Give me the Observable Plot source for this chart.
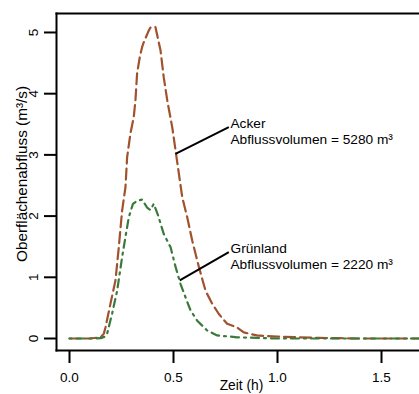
<!DOCTYPE html>
<html><head><meta charset="utf-8">
<script src="https://cdn.jsdelivr.net/npm/d3@7"></script>
<script src="https://cdn.jsdelivr.net/npm/@observablehq/plot@0.6"></script>
<style>html,body{margin:0;padding:0;background:#fff;overflow:hidden}</style>
</head><body><div id="chart"></div>
<script>
// Acker (cropland) hydrograph: time (h) and surface runoff (m³/s)
const ackerTime = [0, 0.05, 0.10, 0.15, 0.165, 0.173, 0.197, 0.221, 0.237, 0.253, 0.269, 0.277, 0.293, 0.309, 0.317, 0.325, 0.338, 0.349, 0.357, 0.381, 0.389, 0.413, 0.4375, 0.453, 0.47, 0.494, 0.51, 0.526, 0.542, 0.566, 0.59, 0.622, 0.654, 0.686, 0.718, 0.758, 0.806, 0.838, 0.9, 1.0, 1.1, 1.2, 1.3, 1.4, 1.7];
const ackerFlow = [0, 0, 0, 0.02, 0.08, 0.18, 0.57, 0.95, 1.49, 2.09, 2.47, 2.96, 3.35, 3.62, 3.89, 4.33, 4.6, 4.76, 4.84, 5.03, 5.08, 5.09, 4.71, 4.27, 3.89, 3.45, 3.07, 2.69, 2.31, 1.98, 1.60, 1.17, 0.78, 0.57, 0.40, 0.24, 0.18, 0.10, 0.05, 0.03, 0.02, 0.01, 0.005, 0, 0];
// Grünland (grassland) hydrograph
const gruenTime = [0, 0.1, 0.15, 0.17, 0.181, 0.205, 0.229, 0.253, 0.269, 0.285, 0.305, 0.325, 0.349, 0.373, 0.389, 0.405, 0.425, 0.453, 0.486, 0.51, 0.534, 0.558, 0.582, 0.614, 0.662, 0.71, 0.806, 0.9, 1.0, 1.7];
const gruenFlow = [0, 0, 0.005, 0.03, 0.08, 0.41, 0.78, 1.33, 1.66, 1.98, 2.2, 2.25, 2.27, 2.14, 2.1, 2.2, 2.02, 1.71, 1.49, 1.17, 0.89, 0.67, 0.46, 0.29, 0.13, 0.05, 0.02, 0.01, 0, 0];

const xTicks = [0, 0.5, 1.0, 1.5];
const yTicks = [0, 1, 2, 3, 4, 5];

const labels = ["Acker\nAbflussvolumen = 5280 m³", "Grünland\nAbflussvolumen = 2220 m³"];
const labelX = [0.774, 0.774];
const labelY = [3.618, 1.583];
const leaderX1 = [0.5096, 0.530];
const leaderY1 = [3.018, 0.948];
const leaderX2 = [0.766, 0.766];
const leaderY2 = [3.453, 1.41];

const xLabel = "Zeit (h)";
const yLabel = "Oberflächenabfluss (m³/s)";

const brown = "#a0522d";
const green = "#3a7a3a";

const acker = ackerTime.map((t, i) => ({t, q: ackerFlow[i]}));
const gruen = gruenTime.map((t, i) => ({t, q: gruenFlow[i]}));
const notes = labels.map((text, i) => ({text, x: labelX[i], y: labelY[i]}));
const leaders = labels.map((_, i) => ({x1: leaderX1[i], y1: leaderY1[i], x2: leaderX2[i], y2: leaderY2[i]}));

const chart = Plot.plot({
  width: 419, height: 394,
  marginLeft: 56, marginRight: 0, marginTop: 13, marginBottom: 44,
  style: {fontFamily: "'Liberation Sans', Arial, Helvetica, sans-serif", fontSize: "13.5px", background: "white", color: "black"},
  x: {domain: [-0.0625, 1.6827]},
  y: {domain: [-0.196, 5.31]},
  marks: [
    Plot.frame({anchor: "left", strokeWidth: 2}),
    Plot.frame({anchor: "top", strokeWidth: 2}),
    Plot.frame({anchor: "bottom", strokeWidth: 2}),
    Plot.axisX({ticks: xTicks, tickFormat: d3.format(".1f"), tickSize: 13, tickPadding: 9, strokeWidth: 2, label: null}),
    Plot.axisY({ticks: yTicks, tickFormat: d3.format("d"), tickSize: 12, tickPadding: 7, tickRotate: -90, strokeWidth: 2, label: null}),
    Plot.text([xLabel], {frameAnchor: "bottom", dx: 3.5, dy: 35.5, lineAnchor: "middle", textAnchor: "middle", fontSize: 13.8}),
    Plot.text([yLabel], {frameAnchor: "left", dx: -34, dy: -8, rotate: -90, lineAnchor: "middle", textAnchor: "middle", fontSize: 15.3}),
    Plot.line(acker, {x: "t", y: "q", stroke: brown, strokeWidth: 2.2, strokeDasharray: "11,5"}),
    Plot.line(gruen, {x: "t", y: "q", stroke: green, strokeWidth: 2.2, strokeDasharray: "2,5,8,5"}),
    Plot.link(leaders, {x1: "x1", y1: "y1", x2: "x2", y2: "y2", stroke: "black", strokeWidth: 2}),
    Plot.text(notes, {x: "x", y: "y", text: "text", textAnchor: "start", lineAnchor: "top", lineHeight: 1.15, fontSize: 13.7})
  ]
});
document.getElementById("chart").appendChild(chart);
</script>
</body></html>
